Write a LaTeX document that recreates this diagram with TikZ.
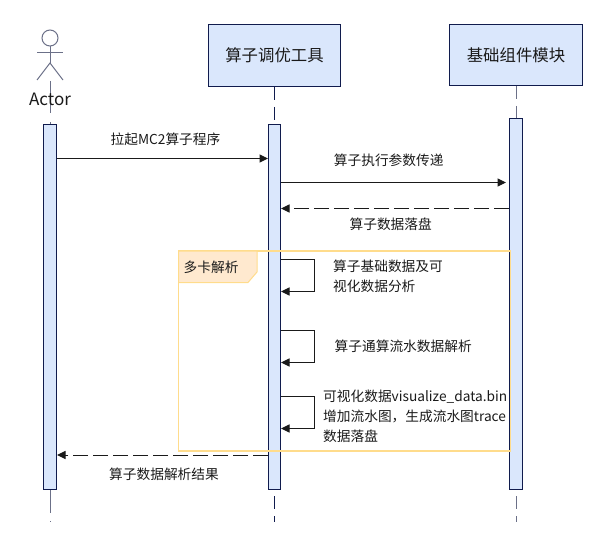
\documentclass[tikz,border=0pt]{standalone}
\usepackage{fontspec}
\setmainfont{Noto Sans CJK SC}
\usetikzlibrary{arrows.meta}
\definecolor{navy}{HTML}{101B4D}
\definecolor{boxfill}{HTML}{DAE7FC}
\definecolor{gline}{HTML}{6B7088}
\definecolor{framec}{HTML}{FFDC8C}
\definecolor{tabfill}{HTML}{FFE9CF}
\definecolor{txt}{HTML}{1A1A1A}
\tikzset{
  lane/.style={draw=navy,fill=boxfill,line width=1pt,inner sep=0pt,font=\fontsize{16.4}{18}\selectfont,text=txt},
  act/.style={draw=navy,fill=boxfill,line width=1pt,inner sep=0pt,minimum width=#1,anchor=north},
  life/.style={draw=navy,line width=1pt,dash pattern=on 13pt off 7pt},
  lifeg/.style={draw=gline,line width=1pt,dash pattern=on 13pt off 7pt},
  msg/.style={draw=txt,line width=1pt,-{Triangle[length=8.5pt,width=8pt]}},
  ret/.style={msg,dash pattern=on 15pt off 5pt},
  lbl/.style={font=\fontsize{13.7}{20}\selectfont,text=txt,inner sep=0pt},
  lft/.style={lbl,anchor=west,align=left},
  actorline/.style={draw=gline,line width=1pt}
}
\begin{document}
\begin{tikzpicture}[x=1pt,y=-1pt]
\useasboundingbox (0,0) rectangle (600,543);
% actor figure
\draw[actorline] (50,38) circle (8);
\coordinate (neck) at (50,46);
\coordinate (hip) at (50,63);
\coordinate (handl) at (37,52.5);
\coordinate (handr) at (63,52.5);
\coordinate (footl) at (37,80);
\coordinate (footr) at (63,80);
\draw[actorline] (neck) -- (hip);
\draw[actorline] (handl) -- (handr);
\draw[actorline] (footl) -- (hip) -- (footr);
% lanes
\node[lane,minimum width=132.5pt,minimum height=61.5pt] (tool) at (274.5,55.7) {算子调优工具};
\node[lane,minimum width=133.5pt,minimum height=60.5pt] (base) at (516,55.2) {基础组件模块};
% activation bars
\node[act=13pt,minimum height=365.5pt] (aa) at (50,123.5) {};
\node[act=12pt,minimum height=365.5pt] (ab) at (274.5,123.5) {};
\node[act=13pt,minimum height=371pt] (ac) at (516,118) {};
% lifelines
\coordinate (aTop) at (50,81);
\coordinate (aEnd) at (50,522);
\coordinate (bEnd) at (274.5,522);
\coordinate (cEnd) at (516,522);
\coordinate (bBotS) at (274.5,496);
\coordinate (cBotS) at (516,496);
\coordinate (cIn) at (506,182.5);
\draw[actorline,dash pattern=on 32pt off 9pt] (aTop) -- (aa.north);
\draw[lifeg,dash pattern=on 23pt off 8pt] (aa.south) -- (aEnd);
\draw[life] (tool.south) -- (ab.north);
\draw[life] (bBotS) -- (bEnd);
\draw[lifeg] (base.south) -- (ac.north);
\draw[lifeg] (cBotS) -- (cEnd);
\node[font=\fontsize{17}{18}\selectfont,text=txt,inner sep=0pt] (actorname) at (50,99) {Actor};
% messages
\draw[msg] (aa.east |- 0,158.5) -- (ab.west |- 0,158.5);
\draw[msg] (ab.east |- 0,182.5) -- (cIn);
\draw[ret] (ac.west |- 0,208.5) -- (ab.east |- 0,208.5);
\draw[ret] (ab.west |- 0,455) -- (aa.east |- 0,455);
\draw[msg] (ab.east |- 0,259.5) -- (314.5,259.5) -- (314.5,291.5) -- (ab.east |- 0,291.5);
\draw[msg] (ab.east |- 0,330.5) -- (314.5,330.5) -- (314.5,362.5) -- (ab.east |- 0,362.5);
\draw[msg] (ab.east |- 0,396.5) -- (314.5,396.5) -- (314.5,428.5) -- (ab.east |- 0,428.5);
% frame
\draw[draw=framec,line width=1.2pt] (178.5,251) rectangle (510.5,451);
\draw[draw=framec,fill=tabfill,line width=1pt] (178.5,251) -- (257,251) -- (257,272) -- (248,282.5) -- (178.5,282.5) -- cycle;
% labels
\node[lbl] (l1) at (165.5,139) {拉起MC2算子程序};
\node[lbl] (l2) at (388.7,160) {算子执行参数传递};
\node[lbl] (l3) at (390.7,224.5) {算子数据落盘};
\node[lft] (l4) at (183.5,267) {多卡解析};
\node[lft] (l5) at (333,276) {算子基础数据及可\\视化数据分析};
\node[lft] (l6) at (334.5,346) {算子通算流水数据解析};
\node[lft] (l7) at (323,416) {可视化数据visualize\_data.bin\\增加流水图，生成流水图trace\\数据落盘};
\node[lbl] (l8) at (164,474) {算子数据解析结果};
\end{tikzpicture}
\end{document}
